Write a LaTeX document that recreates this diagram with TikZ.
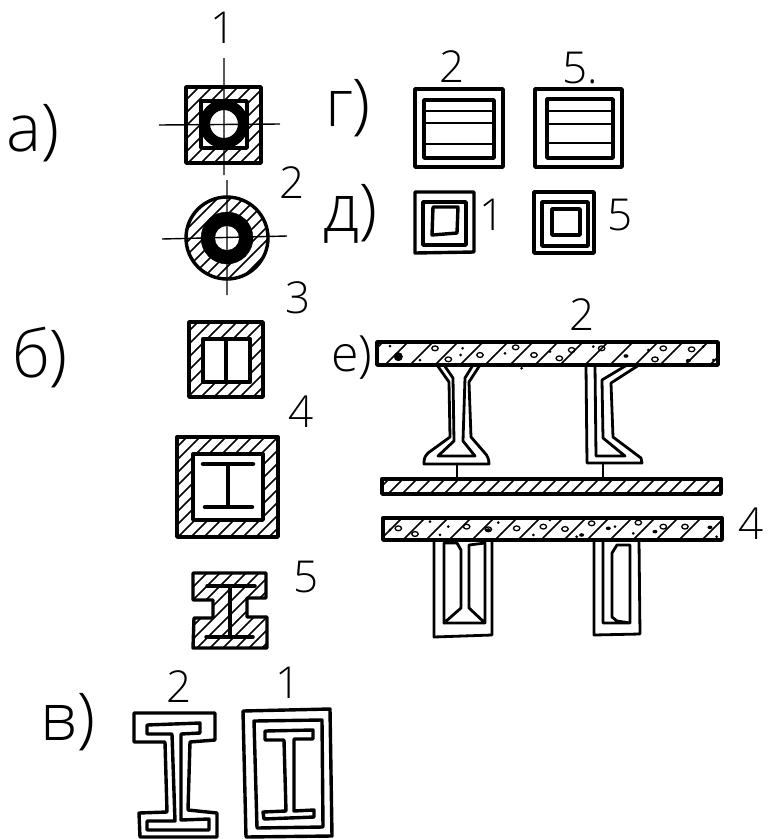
\documentclass[tikz,border=0pt]{standalone}
\usepackage{fontspec}
\newfontfamily\hand{Open Sans Light}
\newcommand\hatchin[2]{\begin{scope}\clip #1;\foreach \c in {0,#2,...,1640}{\draw[hatchline] (\c,0)--(0,\c);}\end{scope}}
\tikzset{
 hatchline/.style={line width=1.7pt},
 thick line/.style={line width=3.4pt,line join=round,line cap=round},
 mid line/.style={line width=2.8pt,line join=round,line cap=round},
 axis line/.style={line width=1.4pt},
 num/.style={font=\hand\fontsize{44}{44}\selectfont,inner sep=0pt},
 part/.style={font=\hand\fontsize{66}{66}\selectfont,inner sep=0pt},
 partsmall/.style={font=\hand\fontsize{50}{50}\selectfont,inner sep=0pt},
 whitefill/.style={fill=white,line width=3.4pt,line join=round},
 pebble/.style={line width=1.3pt},
 grit/.style={fill=black}
}
\begin{document}
\begin{tikzpicture}[x=1pt,y=-1pt]
\useasboundingbox (0,0) rectangle (768,839);
% --- a) square with ring
\hatchin{(186,87) rectangle (261,163)}{13}
\draw[thick line] (186,87) rectangle (261,163);
\draw[whitefill] (201,101) rectangle (247,148);
\draw[line width=10.5pt] (224,124) circle (19.2);
\draw[axis line] (224,58)--(224,175) (159,125)--(280,124);
% --- a) round
\hatchin{(227,238) circle (41)}{13}
\draw[thick line] (227,238) circle (41);
\draw[fill=black] (227,238) circle (26);
\draw[fill=white,draw=none] (227,238) circle (12);
\draw[axis line] (227,180)--(227,295) (162,239)--(287,236);
% --- b) 3
\hatchin{(189,322) rectangle (263,397)}{13}
\draw[thick line] (189,322) rectangle (263,397);
\draw[whitefill,line width=4.5pt] (203,339) rectangle (250,382);
\draw[line width=4.5pt] (226,339)--(226,382);
% --- b) 4
\hatchin{(177,437) rectangle (278,537)}{13}
\draw[thick line] (177,437) rectangle (278,537);
\draw[whitefill] (193,454) rectangle (263,520);
\draw[line width=4.5pt,line cap=round] (203,464)--(253,464) (205,507)--(252,507);
\draw[line width=4pt] (228,464)--(228,507);
% --- b) 5
\def\fivepath{(193,573)--(266,573)--(266,598)--(247,598)--(247,617)--(267,617)--(267,648)--(193,648)--(194,618)--(213,618)--(213,600)--(193,600)--cycle}
\hatchin{\fivepath}{13}
\draw[thick line] \fivepath;
\draw[line width=3.5pt,line cap=round] (207,586)--(255,586) (206,637)--(253,637);
\draw[line width=4pt] (230,586)--(230,637);
% --- v) 2
\draw[thick line] (134,713)--(215,713)--(215,740)--(190,742)--(188,810)--(217,813)--(217,837)--(140,837)--(139,813)--(167,812)--(165,742)--(134,742)--cycle;
\draw[thick line] (147,725)--(200,723)--(200,733)--(181,734)--(181,820)--(209,819)--(209,830)--(147,830)--(147,821)--(175,821)--(172,734)--(147,734)--cycle;
% --- v) 1
\draw[thick line] (243,711)--(330,709)--(332,836)--(246,837)--cycle;
\draw[thick line] (254,721)--(322,720)--(323,827)--(257,828)--cycle;
\draw[thick line] (265,731)--(313,730)--(313,739)--(294,739)--(294,811)--(314,810)--(314,817)--(264,819)--(263,812)--(286,811)--(284,740)--(265,740)--cycle;
% --- g) 2 and 5
\draw[thick line] (415,89) rectangle (503,167);
\draw[thick line] (424,100) rectangle (494,158);
\draw[mid line] (424,111)--(494,111) (424,123)--(494,123) (424,144)--(494,144);
\draw[thick line] (535,89) rectangle (622,167);
\draw[thick line] (547,99) rectangle (613,158);
\draw[mid line] (547,111)--(613,111) (547,124)--(613,124) (547,143)--(613,143);
% --- d) 1 and 5
\draw[thick line] (415,192)--(474,192)--(474,252)--(415,253)--cycle;
\draw[thick line] (423,202)--(466,202)--(466,245)--(423,245)--cycle;
\draw[thick line] (433,207)--(458,207)--(457,233)--(432,235)--cycle;
\draw[thick line] (534,192) rectangle (594,253);
\draw[thick line] (542,202) rectangle (588,246);
\draw[thick line] (552,209) rectangle (580,235);
% --- e) slabs
\hatchin{(377,342) rectangle (718,365)}{25}
\draw[thick line] (377,342) rectangle (718,365);
\hatchin{(382,479) rectangle (721,494)}{14}
\draw[thick line] (382,479) rectangle (721,494);
\hatchin{(383,518) rectangle (722,540)}{23}
\draw[thick line] (383,518) rectangle (722,540);
% pebbles
\begin{scope}[shift={(370,330)},x=0.3333pt,y=-0.3333pt]
 \foreach \a/\b in {195/55,235/88,330/75,437/52,492/75,568/85,605/60,695/55,855/88,880/55,965/58,
  85/595,135/612,290/590,355/598,440/595,520/590,585/597,665/580,805/578,880/590,945/590}
   \draw[pebble] (\a,\b) circle (3.2pt and 2.4pt);
 \fill (85,80) circle (4.5pt);
 \foreach \a/\b in {768/78,955/92,355/600,715/595,635/615,855/605,1020/592}
   \fill[grit] (\a,\b) circle (2.5pt and 1.8pt);
 \foreach \a/\b in {60/48,150/90,278/55,272/75,405/70,540/65,670/50,835/60,1000/50,1030/90,180/575,
  235/590,210/615,385/578,490/615,540/570,620/620,735/590,790/610,1040/620,60/600,455/115}
   \fill[grit] (\a,\b) circle (1.5pt);
\end{scope}
% rails
\draw[mid line] (437,365)--(449,382)--(450,437)--(428,453) .. controls (424,457) and (424,460) .. (424,464)--(489,464) .. controls (489,460) and (488,456) .. (484,452)--(471,437)--(469,382)--(480,365);
\draw[mid line] (444,365)--(453,378)--(454,441)--(438,456)--(475,456)--(463,441)--(465,378)--(473,365);
\draw[mid line] (586,365)--(587,463)--(642,463)--(641,458)--(613,437)--(611,383)--(639,365);
\draw[mid line] (595,365)--(596,456)--(625,456)--(603,438)--(602,380)--(627,365);
\draw[mid line] (457,464)--(457,479) (603,463)--(603,479);
% lower beams
\draw[mid line] (434,540)--(434,637)--(492,635)--(492,540);
\draw[mid line] (444,543)--(457,543)--(461,550)--(461,608)--(444,623)--(444,543);
\draw[mid line] (469,545)--(485,543)--(485,623)--(444,623) (469,545)--(469,608)--(485,623);
\draw[mid line] (594,540)--(594,635)--(640,634)--(639,540);
\draw[mid line] (603,540)--(603,623)--(630,623)--(630,545)--(617,545)--(612,553)--(612,617)--(617,621)--(630,623);
% --- labels
\node[part] (la) at (33,133) {а)};
\node[part] (lb) at (40,358) {б)};
\node[part] (lv) at (68,722) {в)};
\node[part] (lg) at (348,108) {г)};
\node[part] (ld) at (350,214) {д)};
\node[partsmall] (le) at (352,358) {е)};
\node[num] (n1) at (223,28) {1};
\node[num] (n2a) at (292,183) {2};
\node[num] (n3) at (298,298) {3};
\node[num] (n4a) at (301,412) {4};
\node[num] (n5a) at (306,577) {5};
\node[num] (n2b) at (179,687) {2};
\node[num] (n1b) at (288,683) {1};
\node[num] (n2c) at (452,67) {2};
\node[num] (n5b) at (580,68) {5.};
\node[num] (n1c) at (492,215) {1};
\node[num] (n5c) at (620,215) {5};
\node[num] (n2d) at (582,315) {2};
\node[num] (n4b) at (751,524) {4};
\end{tikzpicture}
\end{document}
